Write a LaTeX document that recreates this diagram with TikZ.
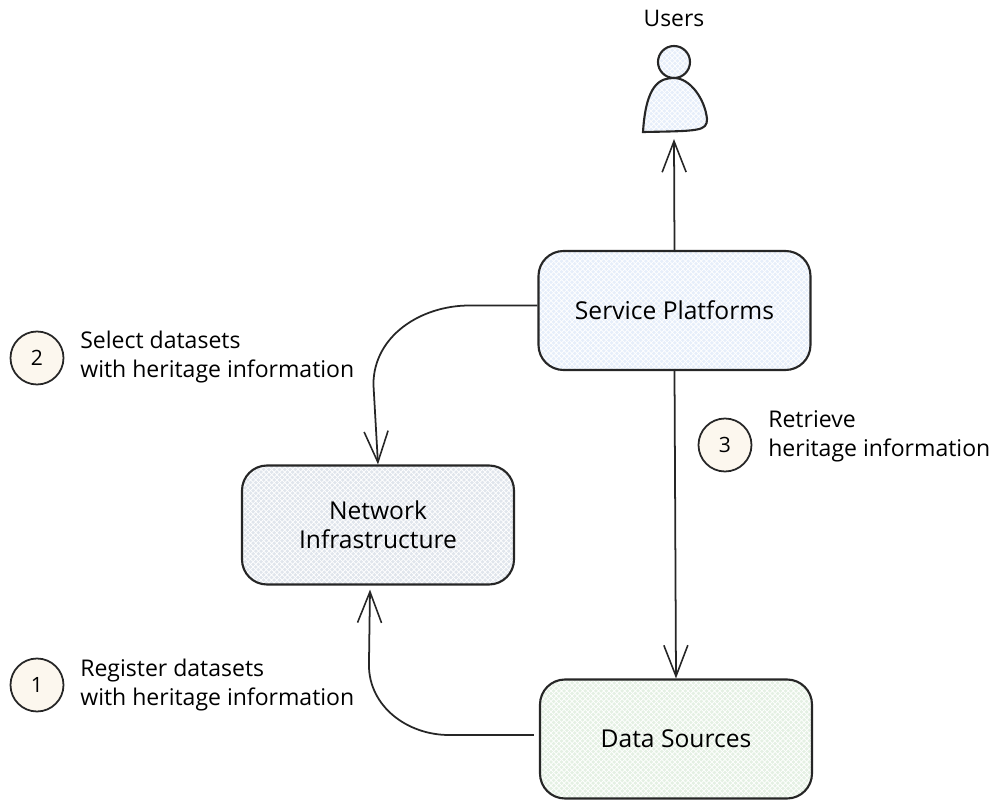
\documentclass[tikz,border=0pt]{standalone}
\usepackage{fontspec}
\setmainfont{Open Sans}
\usetikzlibrary{arrows.meta,patterns}
\definecolor{servicefill}{HTML}{E6EEFA}
\definecolor{networkfill}{HTML}{E0E5EC}
\definecolor{sourcefill}{HTML}{E4F0E3}
\definecolor{stepfill}{HTML}{FCF7EE}
\tikzset{
  hatched/.style={postaction={pattern=crosshatch, pattern color=white},
    postaction={draw=black!85, line width=#1}},
  box/.style={line width=1.2pt, rounded corners=0.5cm, minimum width=5.44cm, minimum height=2.38cm,
    align=center, font=\fontsize{14}{16.5}\selectfont, hatched=1.2pt},
  stepnum/.style={circle, draw=black!85, line width=1pt, fill=stepfill, minimum size=1.06cm,
    inner sep=0pt, font=\fontsize{12}{14}\selectfont},
  note/.style={anchor=west, align=left, inner sep=0pt, font=\fontsize{13.1}{16.5}\selectfont},
  link/.style={line width=1pt, black!85, -{Straight Barb[length=0.62cm,width=0.48cm,line width=0.9pt]}}
}
\begin{document}
\begin{tikzpicture}
    \useasboundingbox (0,0) rectangle (19.88,15.98);
    % Draw boxes
    \node[box, fill=servicefill] (service) at (13.49,9.77) {Service Platforms};
    \node[box, fill=networkfill] (network) at (7.56,5.48) {Network\\Infrastructure};
    \node[box, fill=sourcefill] (sources) at (13.52,1.2) {Data Sources};
    % Draw user
    \node[circle, line width=1.2pt, fill=servicefill, hatched=1.2pt, minimum size=0.64cm, inner sep=0pt] (head) at (13.48,14.74) {};
    \fill[servicefill, hatched=1.2pt] (12.86,13.34) .. controls (12.92,14.3) and (13.2,14.42) .. (13.48,14.42)
        .. controls (13.8,14.42) and (14.1,14) .. (14.14,13.6)
        .. controls (14.14,13.36) and (14,13.36) .. cycle;
    \coordinate (feet) at (13.48,13.2);
    \node[inner sep=0pt, font=\fontsize{13}{14}\selectfont] (users) at (13.48,15.62) {Users};
    % Draw steps
    \node[stepnum] (stepa) at (0.74,2.28) {1};
    \node[stepnum] (stepb) at (0.74,8.82) {2};
    \node[stepnum] (stepc) at (14.5,7.08) {3};
    % Draw notes
    \node[note] (notea) at (1.6,2.28) {Register datasets\\with heritage information};
    \node[note] (noteb) at (1.6,8.84) {Select datasets\\with heritage information};
    \node[note] (notec) at (15.36,7.26) {Retrieve\\heritage information};
    % Draw links
    \draw[link] (service.north) -- (feet);
    \draw[link] (service.south) -- (sources.north);
    \draw[link] ([yshift=0.1cm]service.west) -- ++(-1.36,0) to[out=180,in=90] ++(-1.92,-1.58) -- (network.north);
    \draw[link] ([xshift=-0.1cm,yshift=0.08cm]sources.west) -- ++(-1.7,0) to[out=180,in=-90] ++(-1.6,1.4) -- ([xshift=-0.16cm,yshift=-0.08cm]network.south);
\end{tikzpicture}
\end{document}
